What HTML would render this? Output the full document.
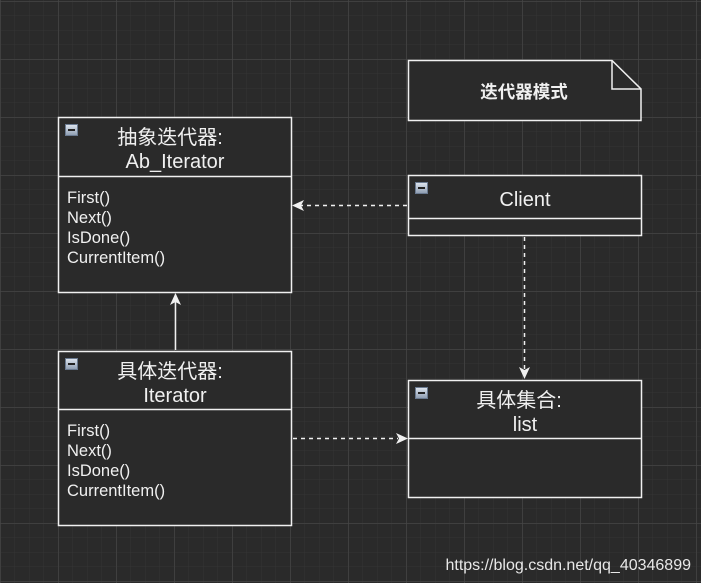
<!DOCTYPE html>
<html><head><meta charset="utf-8"><style>
html,body{margin:0;padding:0;background:#2a2a2a;}
svg{display:block}
text{font-family:"Liberation Sans","Noto Sans CJK SC",sans-serif;fill:#f0f0f0}
</style></head><body>
<svg width="701" height="583" viewBox="0 0 701 583" xmlns="http://www.w3.org/2000/svg">
<defs>
<pattern id="minor" width="14.5" height="14.5" patternUnits="userSpaceOnUse" x="0" y="1">
<path d="M0 0H14.5M0 0V14.5" stroke="#343434" stroke-width="1" fill="none"/>
</pattern>
<pattern id="major" width="58" height="58" patternUnits="userSpaceOnUse" x="0.5" y="1.5">
<path d="M0 0H58M0 0V58" stroke="#4a4a4a" stroke-width="1" fill="none"/>
</pattern>
<linearGradient id="ig" x1="0" y1="0" x2="0" y2="1"><stop offset="0" stop-color="#dfe6ef"/><stop offset="1" stop-color="#8c9bb0"/></linearGradient>
<g id="icon"><rect x="0.5" y="0.5" width="12" height="11" fill="url(#ig)" stroke="#6a7a90"/><rect x="3" y="5" width="7" height="2" fill="#222"/></g>
</defs>
<rect width="701" height="583" fill="#2a2a2a"/>
<rect width="701" height="583" fill="url(#minor)"/>
<rect width="701" height="583" fill="url(#major)"/>
<g stroke="#f0f0f0" stroke-width="1.5" fill="#2a2a2a">
<path d="M408.5 60.5H612L641 89V120.5H408.5Z"/>
<path d="M612 60.5V89H641" fill="none"/>
<rect x="58.5" y="117.5" width="233" height="175"/><line x1="58.5" y1="176.5" x2="291.5" y2="176.5"/>
<rect x="408.5" y="175.5" width="233" height="60"/><line x1="408.5" y1="218.5" x2="641.5" y2="218.5"/>
<rect x="58.5" y="351.5" width="233" height="174"/><line x1="58.5" y1="409.5" x2="291.5" y2="409.5"/>
<rect x="408.5" y="380.5" width="233" height="117"/><line x1="408.5" y1="438.5" x2="641.5" y2="438.5"/>
</g>
<use href="#icon" x="65" y="124"/><use href="#icon" x="415" y="182"/><use href="#icon" x="65" y="358"/><use href="#icon" x="415" y="387"/>
<g stroke="#f0f0f0" stroke-width="1.5" fill="none">
<path d="M407 205.5H300" stroke-dasharray="4 4"/>
<path d="M524.5 237V370" stroke-dasharray="4 4"/>
<path d="M293 438.5H398" stroke-dasharray="4 4"/>
<path d="M175.5 350V302"/>
</g>
<g fill="#f0f0f0">
<path d="M292 205.5L304 200L301 205.5L304 211Z"/>
<path d="M524.5 379L519 367L524.5 370L530 367Z"/>
<path d="M408 438.5L396 433L399 438.5L396 444Z"/>
<path d="M175.5 293L170 305L175.5 302L181 305Z"/>
</g>
<text x="524" y="98" font-size="17.5" font-weight="bold" text-anchor="middle">迭代器模式</text>
<text x="170" y="144" font-size="20" text-anchor="middle">抽象迭代器:</text>
<text x="175" y="168" font-size="20" text-anchor="middle">Ab_Iterator</text>
<text x="525" y="206" font-size="20" text-anchor="middle">Client</text>
<text x="170" y="378" font-size="20" text-anchor="middle">具体迭代器:</text>
<text x="175" y="402" font-size="20" text-anchor="middle">Iterator</text>
<text x="519" y="407" font-size="20" text-anchor="middle">具体集合:</text>
<text x="525" y="431" font-size="20" text-anchor="middle">list</text>
<g font-size="16.5">
<text x="67" y="203">First()</text><text x="67" y="223">Next()</text><text x="67" y="243">IsDone()</text><text x="67" y="263">CurrentItem()</text>
<text x="67" y="436">First()</text><text x="67" y="456">Next()</text><text x="67" y="476">IsDone()</text><text x="67" y="496">CurrentItem()</text>
</g>
<text x="691" y="570" font-size="16" text-anchor="end" style="fill:#e8e8e8">https://blog.csdn.net/qq_40346899</text>
</svg>
</body></html>
